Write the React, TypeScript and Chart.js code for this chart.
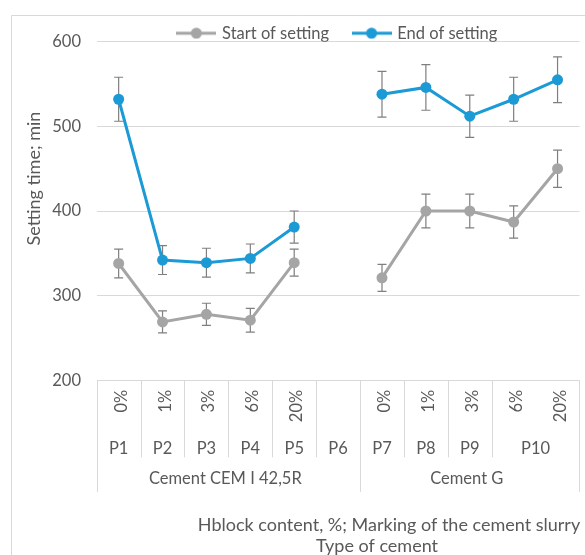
import React, { useEffect, useRef } from 'react';
import { Chart, registerables } from 'chart.js';

Chart.register(...registerables);

// ---- data ----
const hblockLabels = ['0%', '1%', '3%', '6%', '20%', '', '0%', '1%', '3%', '6%', '20%'];
const markingLabels = ['P1', 'P2', 'P3', 'P4', 'P5', 'P6', 'P7', 'P8', 'P9', 'P10'];
const markingSpans = [1, 1, 1, 1, 1, 1, 1, 1, 1, 2];
const cementLabels = ['Cement CEM I 42,5R', 'Cement G'];
const cementSpans = [6, 5];

const startValues = [338, 269, 278, 271, 339, null, 321, 400, 400, 387, 450];
const startErrors = [17, 13, 13, 14, 16, null, 16, 20, 20, 19, 22];
const endValues = [532, 342, 339, 344, 381, null, 538, 546, 512, 532, 555];
const endErrors = [26, 17, 17, 17, 19, null, 27, 27, 25, 26, 27];

const yMin = 200;
const yMax = 600;
const yStep = 100;

const yTitle = 'Setting time; min';
const xTitleLines = ['Hblock content, %; Marking of the cement slurry', 'Type of cement'];
const seriesNames = ['Start of setting', 'End of setting'];

// ---- styles ----
const FONT = 'Lato';
const TEXT = '#595959';
const GRID = '#d9d9d9';
const GRAY = '#a5a5a5';
const BLUE = '#1b9ad6';
const ERR = '#7f7f7f';
const LABEL_SIZE = 16.5;
const TITLE_SIZE = 18;

function makeLegendIcon(color: string) {
  const c = document.createElement('canvas');
  c.width = 40;
  c.height = 12;
  const ctx = c.getContext('2d')!;
  ctx.strokeStyle = color;
  ctx.lineWidth = 3;
  ctx.beginPath();
  ctx.moveTo(0, 6);
  ctx.lineTo(40, 6);
  ctx.stroke();
  ctx.fillStyle = color;
  ctx.beginPath();
  ctx.arc(20, 6, 5.5, 0, Math.PI * 2);
  ctx.fill();
  return c;
}

const errorBarsPlugin = {
  id: 'errorBars',
  beforeDatasetsDraw(chart: any) {
    const ctx = chart.ctx;
    const ys = chart.scales.y;
    const errs = [startErrors, endErrors];
    ctx.save();
    ctx.strokeStyle = ERR;
    ctx.lineWidth = 1.2;
    chart.data.datasets.forEach((ds: any, di: number) => {
      const meta = chart.getDatasetMeta(di);
      ds.data.forEach((v: number | null, i: number) => {
        const e = errs[di][i];
        if (v == null || e == null) return;
        const x = meta.data[i].x;
        const yt = ys.getPixelForValue(v + e);
        const yb = ys.getPixelForValue(v - e);
        const cap = 4.5;
        ctx.beginPath();
        ctx.moveTo(x, yt);
        ctx.lineTo(x, yb);
        ctx.moveTo(x - cap, yt);
        ctx.lineTo(x + cap, yt);
        ctx.moveTo(x - cap, yb);
        ctx.lineTo(x + cap, yb);
        ctx.stroke();
      });
    });
    ctx.restore();
  },
};

const axisPlugin = {
  id: 'multiLevelAxis',
  afterDraw(chart: any) {
    const ctx = chart.ctx;
    const xs = chart.scales.x;
    const ys = chart.scales.y;
    const axisY = ys.getPixelForValue(yMin);
    const colW = xs.getPixelForValue(1) - xs.getPixelForValue(0);
    const edge = (i: number) => xs.getPixelForValue(0) - colW / 2 + i * colW;

    ctx.save();
    // outer chart border
    ctx.strokeStyle = GRID;
    ctx.lineWidth = 1;
    ctx.beginPath();
    ctx.moveTo(11.5, 555);
    ctx.lineTo(11.5, 15.5);
    ctx.lineTo(585, 15.5);
    ctx.stroke();

    // separators
    const groupEdges = new Set<number>();
    let acc = 0;
    groupEdges.add(0);
    cementSpans.forEach((s) => {
      acc += s;
      groupEdges.add(acc);
    });
    ctx.beginPath();
    groupEdges.forEach((i) => {
      const x = Math.round(edge(i)) + 0.5;
      ctx.moveTo(x, axisY);
      ctx.lineTo(x, axisY + 111.5);
    });
    acc = 0;
    markingSpans.forEach((s) => {
      acc += s;
      if (!groupEdges.has(acc)) {
        const x = Math.round(edge(acc)) + 0.5;
        ctx.moveTo(x, axisY);
        ctx.lineTo(x, axisY + 77);
      }
    });
    ctx.stroke();

    ctx.fillStyle = TEXT;
    ctx.font = `${LABEL_SIZE}px ${FONT}`;
    // level 1: rotated percentages
    hblockLabels.forEach((lab, i) => {
      if (!lab) return;
      const cx = xs.getPixelForValue(i);
      ctx.save();
      ctx.translate(cx + 8, axisY + 9.5);
      ctx.rotate(-Math.PI / 2);
      ctx.textAlign = 'right';
      ctx.textBaseline = 'alphabetic';
      ctx.fillText(lab, 0, 0);
      ctx.restore();
    });
    // level 2: marking
    ctx.textAlign = 'center';
    ctx.textBaseline = 'alphabetic';
    acc = 0;
    markingLabels.forEach((lab, k) => {
      const s = markingSpans[k];
      const cx = (edge(acc) + edge(acc + s)) / 2;
      ctx.fillText(lab, cx, axisY + 74);
      acc += s;
    });
    // level 3: cement type
    acc = 0;
    cementLabels.forEach((lab, k) => {
      const s = cementSpans[k];
      const cx = (edge(acc) + edge(acc + s)) / 2 - 3;
      ctx.fillText(lab, cx, axisY + 104);
      acc += s;
    });
    // axis titles
    ctx.font = `${TITLE_SIZE}px ${FONT}`;
    ctx.fillText(xTitleLines[0], 389, 531);
    ctx.fillText(xTitleLines[1], 377, 552);

    ctx.save();
    ctx.translate(40, 178.5);
    ctx.rotate(-Math.PI / 2);
    ctx.textAlign = 'center';
    ctx.fillText(yTitle, 0, 0);
    ctx.restore();

    ctx.restore();
  },
};

export default function App() {
  const ref = useRef<HTMLCanvasElement | null>(null);

  useEffect(() => {
    if (!ref.current) return;
    const icons = [makeLegendIcon(GRAY), makeLegendIcon(BLUE)];
    const chart = new Chart(ref.current, {
      type: 'line',
      data: {
        labels: hblockLabels,
        datasets: [
          {
            label: seriesNames[0],
            data: startValues,
            borderColor: GRAY,
            backgroundColor: GRAY,
            borderWidth: 3,
            pointRadius: 5.5,
            pointBackgroundColor: GRAY,
            pointBorderColor: GRAY,
            pointBorderWidth: 0,
            spanGaps: false,
            tension: 0,
          },
          {
            label: seriesNames[1],
            data: endValues,
            borderColor: BLUE,
            backgroundColor: BLUE,
            borderWidth: 3,
            pointRadius: 5.5,
            pointBackgroundColor: BLUE,
            pointBorderColor: BLUE,
            pointBorderWidth: 0,
            spanGaps: false,
            tension: 0,
          },
        ],
      },
      options: {
        responsive: false,
        animation: false,
        layout: { padding: 0 },
        plugins: {
          tooltip: { enabled: false },
          legend: {
            position: 'top',
            fullSize: false,
            align: 'center',
            maxHeight: 41.7,
            labels: {
              usePointStyle: true,
              pointStyleWidth: 35,
              padding: 25,
              color: TEXT,
              font: { family: FONT, size: LABEL_SIZE },
              generateLabels: (c: any) => {
                const items = (Chart.defaults.plugins.legend.labels as any).generateLabels(c);
                return items.map((it: any, i: number) => ({ ...it, pointStyle: icons[i] }));
              },
            },
          },
        },
        scales: {
          x: {
            offset: true,
            ticks: { display: false },
            grid: { display: false },
            border: { display: false },
            afterFit: (s: any) => {
              s.height = 174.7;
            },
          },
          y: {
            min: yMin,
            max: yMax,
            ticks: {
              stepSize: yStep,
              padding: 15.7,
              color: TEXT,
              font: { family: FONT, size: LABEL_SIZE },
            },
            grid: { color: GRID, lineWidth: 1, drawTicks: false },
            border: { display: false },
            afterFit: (s: any) => {
              s.width = 96.7;
            },
          },
        },
      } as any,
      plugins: [errorBarsPlugin, axisPlugin],
    });
    return () => chart.destroy();
  }, []);

  return (
    <div style={{ position: 'fixed', left: 0, top: 0, width: 585, height: 555, background: '#fff' }}>
      <canvas ref={ref} width={585} height={555} style={{ display: 'block' }} />
    </div>
  );
}
